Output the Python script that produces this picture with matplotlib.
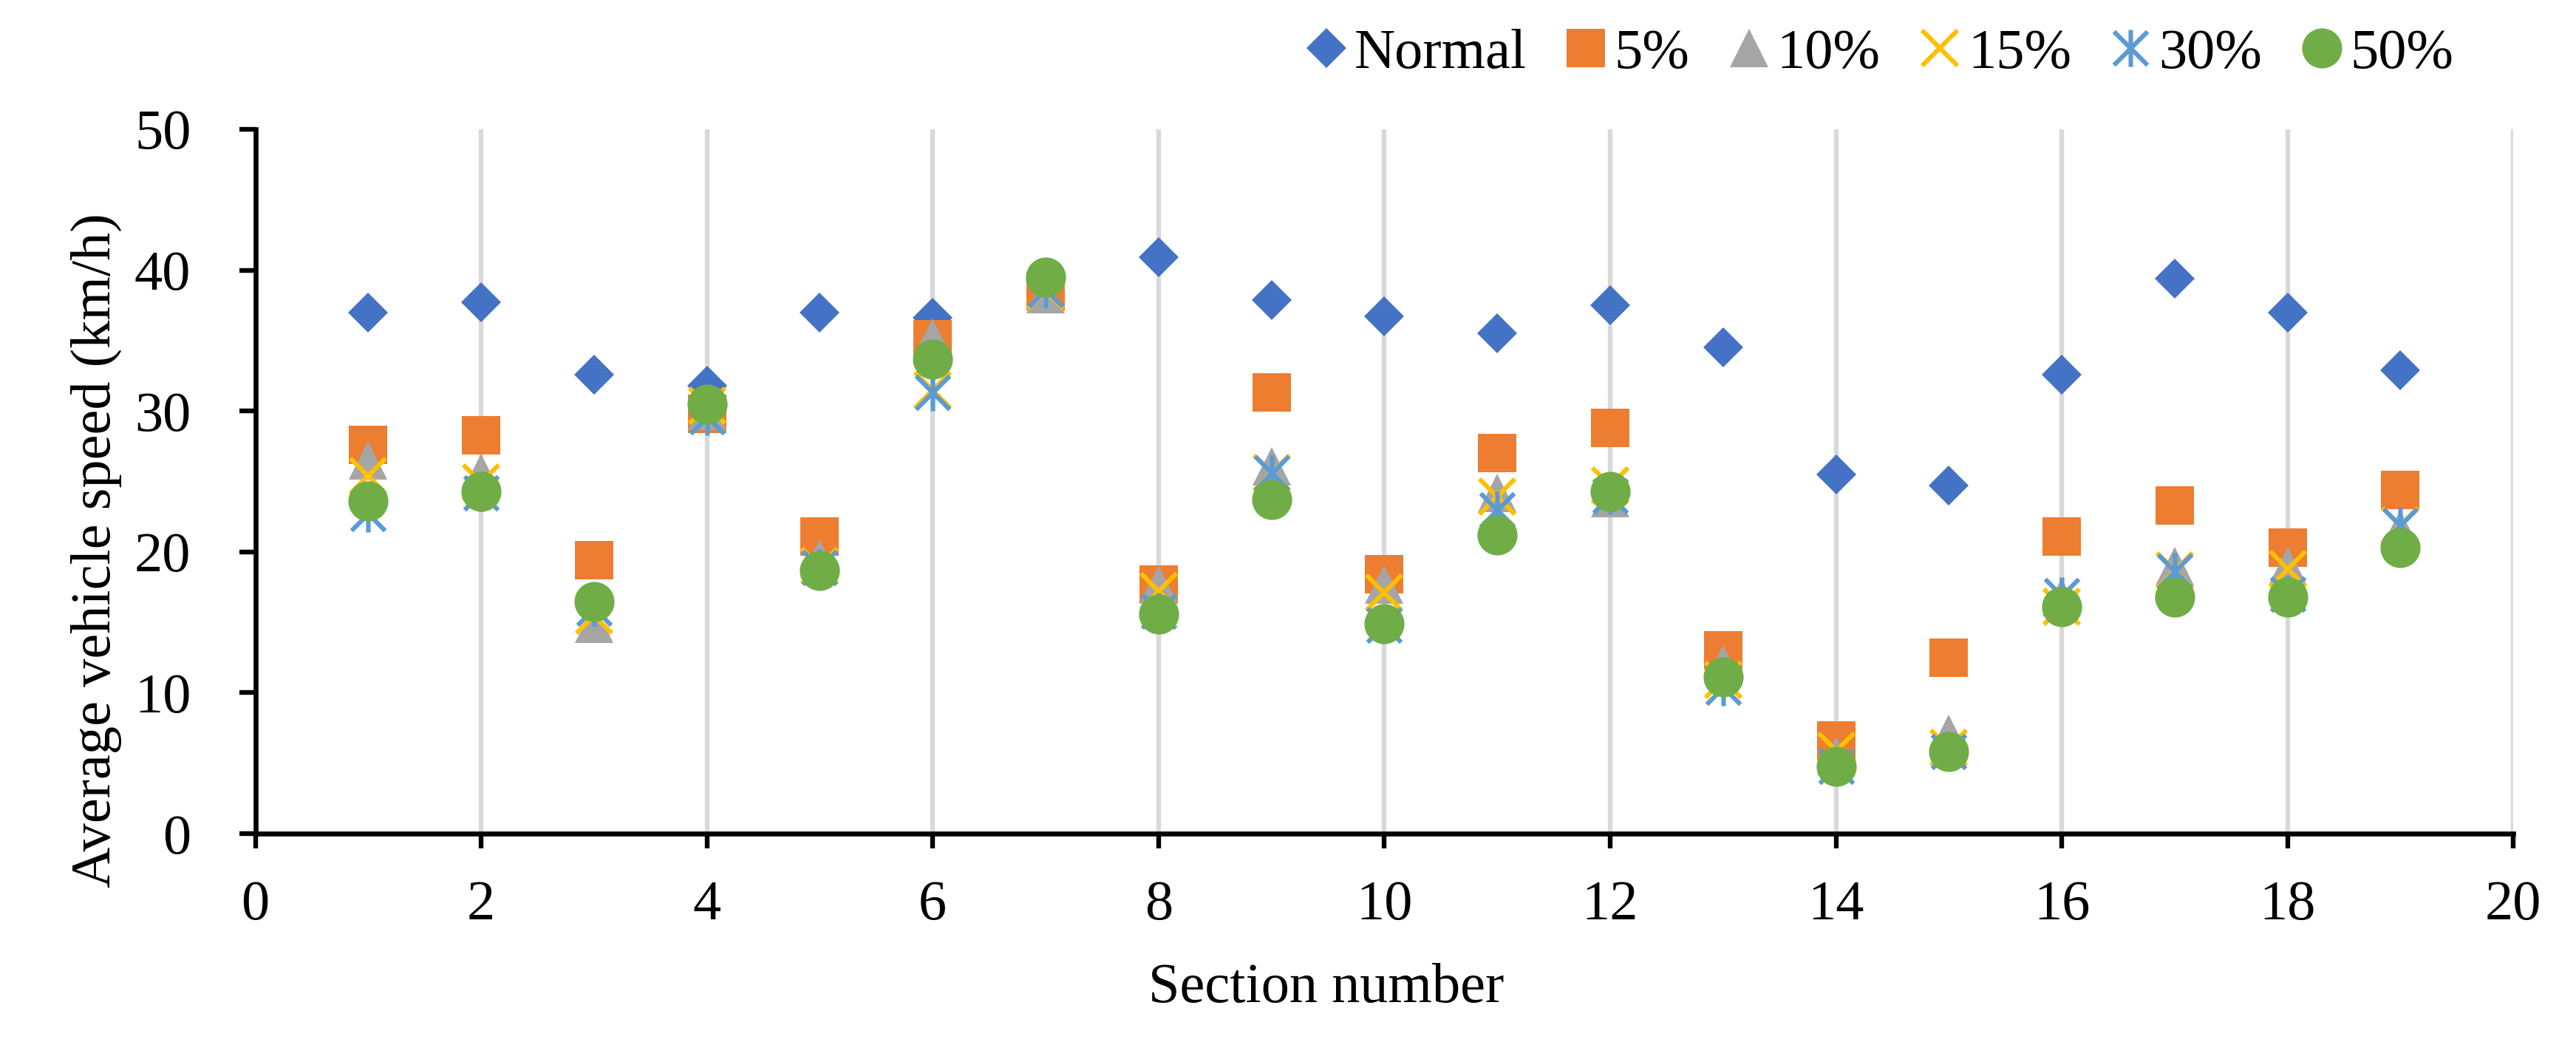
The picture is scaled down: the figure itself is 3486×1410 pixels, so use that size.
import matplotlib

matplotlib.use("Agg")

import matplotlib.pyplot as plt
from matplotlib.path import Path

sections = list(range(1, 20))
normal = [37.0, 37.7, 32.6, 31.8, 37.0, 36.6, 39.2, 40.9, 37.9, 36.7,
          35.5, 37.5, 34.5, 25.5, 24.7, 32.6, 39.4, 37.0, 32.9]
p5 = [27.6, 28.3, 19.4, 29.8, 21.1, 35.1, 38.5, 17.7, 31.3, 18.4,
      27.0, 28.8, 13.0, 6.6, 12.5, 21.1, 23.3, 20.3, 24.4]
p10 = [26.5, 25.6, 14.9, 30.0, 19.5, 35.2, 38.3, 17.7, 26.1, 17.7,
       24.2, 23.8, 12.0, 5.5, 7.1, 16.8, 19.0, 19.0, 21.6]
p15 = [25.4, 24.9, 15.5, 30.4, 19.0, 31.5, 38.5, 17.2, 25.6, 17.1,
       23.9, 24.7, 10.9, 5.9, 6.1, 16.1, 18.7, 18.8, 21.9]
p30 = [22.7, 24.2, 16.0, 29.6, 18.9, 31.3, 38.6, 15.8, 25.6, 14.8,
       23.0, 24.0, 10.4, 4.8, 5.8, 16.9, 18.6, 17.0, 21.9]
p50 = [23.6, 24.3, 16.5, 30.5, 18.7, 33.7, 39.5, 15.6, 23.7, 14.9,
       21.2, 24.3, 11.1, 4.8, 5.8, 16.1, 16.8, 16.8, 20.3]

labels = ["Normal", "5%", "10%", "15%", "30%", "50%"]
x_ticks = list(range(0, 21, 2))
y_ticks = list(range(0, 51, 10))

# Excel-style asterisk: an X with a vertical bar
star = Path(
    [(-1, -1), (1, 1), (-1, 1), (1, -1), (0, -1.1), (0, 1.1)],
    [Path.MOVETO, Path.LINETO] * 3,
)

plt.rcParams.update(
    {
        "font.family": ["Liberation Serif", "DejaVu Serif"],
        "font.size": 27.5,
        "axes.linewidth": 2.4,
    }
)

fig = plt.figure(figsize=(17.435, 7.05), dpi=200)
fig.patch.set_facecolor("white")
ax = fig.add_axes([0.0991, 0.2, 0.8763, 0.6759])

styles = [
    dict(marker="D", ms=13.6, color="#4472C4", mew=0),
    dict(marker="s", ms=19, color="#ED7D31", mew=0),
    dict(marker="^", ms=19, color="#A5A5A5", mew=0),
    dict(marker="x", ms=17, color="#FFC000", mew=2.2),
    dict(marker=star, ms=18, color="#5B9BD5", mew=2.2, mfc="none"),
    dict(marker="o", ms=19.5, color="#70AD47", mew=0),
]
series = [normal, p5, p10, p15, p30, p50]

handles = []
for vals, lab, st in zip(series, labels, styles):
    (h,) = ax.plot(sections, vals, linestyle="none", label=lab, zorder=3, **st)
    handles.append(h)

ax.set_xlim(0, 20)
ax.set_ylim(0, 50)
ax.set_xticks(x_ticks)
ax.set_yticks(y_ticks)
ax.grid(True, axis="x", color="#D9D9D9", linewidth=2.3, zorder=0)
ax.set_axisbelow(True)
for side in ("top", "right"):
    ax.spines[side].set_visible(False)
ax.tick_params(axis="x", direction="out", length=7.2, width=2.3, pad=15.5)
ax.tick_params(axis="y", direction="out", length=8, width=2.3, pad=23.4)

ax.set_xlabel("Section number")
ax.xaxis.set_label_coords(0.4744, -0.184)
ax.set_ylabel("Average vehicle speed (km/h)")
ax.yaxis.set_label_coords(-0.059, 0.402)

fig.legend(
    handles=handles,
    labels=labels,
    ncol=6,
    loc="center",
    bbox_to_anchor=(0.729, 0.948),
    frameon=False,
    handlelength=0.8,
    handletextpad=0.1,
    columnspacing=0.65,
    numpoints=1,
    borderaxespad=0,
)

fig.savefig("out.png", dpi=200)
